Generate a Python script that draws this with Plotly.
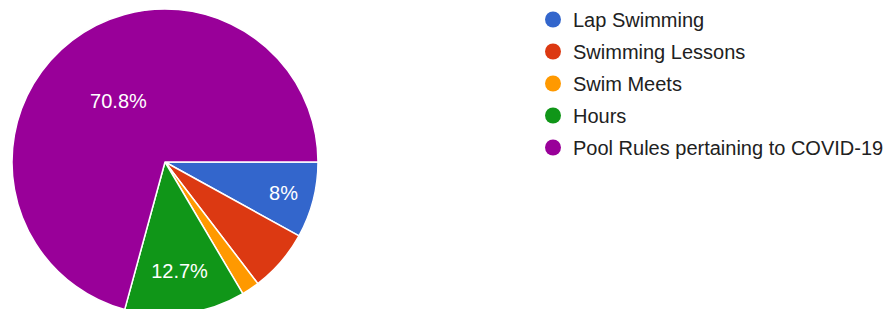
import plotly.graph_objects as go

categories = ["Lap Swimming", "Swimming Lessons", "Swim Meets", "Hours",
              "Pool Rules pertaining to COVID-19"]
counts = [17, 14, 4, 27, 150]
colors = ["#3366cc", "#dc3912", "#ff9900", "#109618", "#990099"]

total = sum(counts)
labels_txt = []
for c in counts:
    p = round(100 * c / total, 1)
    s = ("%.1f" % p).rstrip("0").rstrip(".") + "%"
    labels_txt.append(s if p >= 7.5 else "")

W, H = 894, 320
cx, cy, r = 165, 162, 153

fig = go.Figure()
fig.add_trace(go.Pie(
    labels=categories, values=counts, text=labels_txt,
    textinfo="text", textposition="inside", insidetextorientation="horizontal",
    sort=False, direction="clockwise", rotation=90,
    marker=dict(colors=colors, line=dict(color="white", width=1.5)),
    textfont=dict(color="white", size=20, family="Liberation Sans, Arial"),
    domain=dict(x=[(cx - r) / W, (cx + r) / W], y=[(H - cy - r) / H, (H - cy + r) / H]),
    showlegend=False, hoverinfo="label+percent",
))
for i, (name, col) in enumerate(zip(categories, colors)):
    fig.add_trace(go.Scatter(
        x=[None], y=[None], mode="markers", name=name, legendgroup=f"g{i}",
        marker=dict(color=col, size=16, symbol="circle"),
    ))

fig.update_layout(
    width=W, height=H,
    margin=dict(l=0, r=0, t=0, b=0),
    paper_bgcolor="white", plot_bgcolor="white",
    xaxis=dict(visible=False), yaxis=dict(visible=False),
    showlegend=True,
    legend=dict(x=533 / W, xanchor="left", y=1, yanchor="top",
                tracegroupgap=3, borderwidth=0,
                font=dict(size=20, color="#212121", family="Liberation Sans, Arial"),
                itemclick=False, itemdoubleclick=False),
    font=dict(family="Liberation Sans, Arial"),
)

fig.write_html("out.html", config={"displayModeBar": False},
               post_script="document.body.style.margin='0';document.body.style.overflow='hidden';")
